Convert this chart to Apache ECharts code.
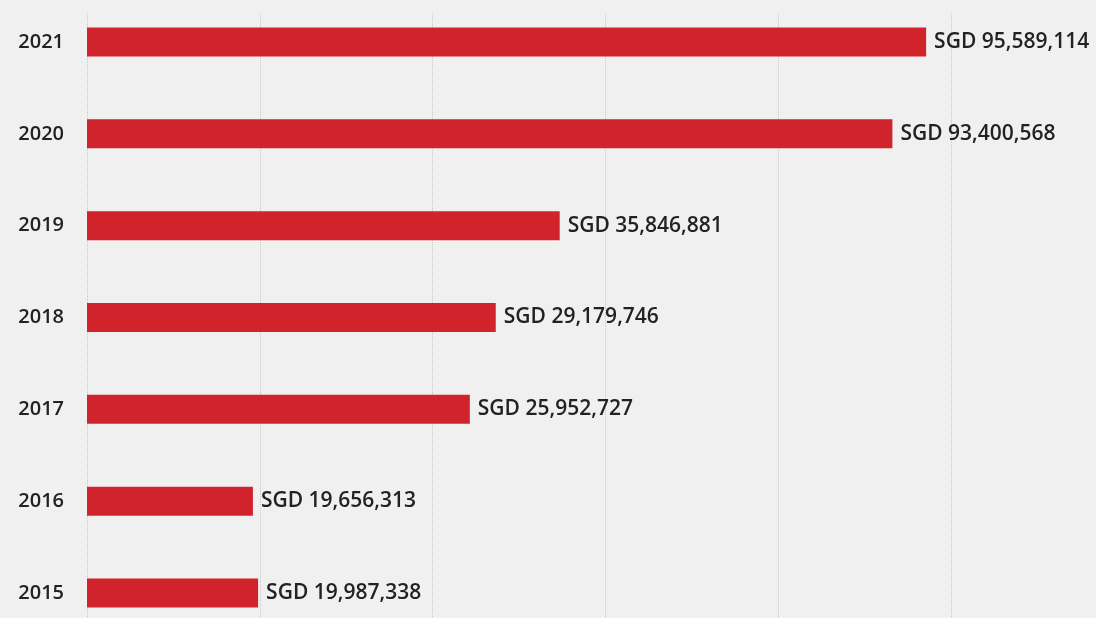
<!DOCTYPE html>
<html>
<head>
<meta charset="utf-8">
<style>
	html, body { margin: 0; padding: 0; background: #f0f0f0; }
	#main { width: 1096px; height: 618px; }
</style>
<script src="https://cdn.jsdelivr.net/npm/echarts@6/dist/echarts.min.js"></script>
</head>
<body>
<div id="main"></div>
<script>
// 年份（从下到上）
var years = ['2015', '2016', '2017', '2018', '2019', '2020', '2021'];
// 柱长，按图上量出（单位：SGD），原图柱长与标注金额不完全对应
var barValues = [19800000, 19200000, 44300000, 47300000, 54700000, 93200000, 97100000];
// 柱右侧的金额标注
var amountLabels = ['SGD 19,987,338', 'SGD 19,656,313', 'SGD 25,952,727', 'SGD 29,179,746',
	'SGD 35,846,881', 'SGD 93,400,568', 'SGD 95,589,114'];

(function() {
	var myChart = echarts.init(document.getElementById('main'));
	var font = '"Open Sans", "Noto Sans", sans-serif';

	var option = {
		backgroundColor: '#f0f0f0',
		animation: false,
		grid: [
			// 柱子所在的网格（类目落在上下边上）
			{ left: 87, width: 1037, top: 42, bottom: 25, outerBoundsMode: 'none' },
			// 只画虚线的网格
			{ left: 87, width: 1037, top: 14, bottom: 0, outerBoundsMode: 'none' }
		],
		xAxis: [{
			type: 'value',
			gridIndex: 0,
			min: 0,
			max: 120000000,
			interval: 20000000,
			show: false,
			splitLine: { show: false }
		}, {
			type: 'value',
			gridIndex: 1,
			min: 0,
			max: 120000000,
			interval: 20000000,
			axisLine: { show: false },
			axisTick: { show: false },
			axisLabel: { show: false },
			splitLine: {
				show: true,
				lineStyle: { color: '#c6c6c6', type: 'dotted', width: 1 }
			}
		}],
		yAxis: [{
			type: 'category',
			gridIndex: 0,
			data: years,
			boundaryGap: false,
			axisLine: { show: false },
			axisTick: { show: false },
			splitLine: { show: false },
			axisLabel: {
				margin: 23,
				color: '#222',
				fontSize: 20,
				fontWeight: 600,
				fontFamily: font
			}
		}, {
			type: 'value',
			gridIndex: 1,
			show: false,
			min: 0,
			max: 1
		}],
		series: [{
			type: 'bar',
			xAxisIndex: 0,
			yAxisIndex: 0,
			data: barValues,
			barWidth: 29,
			itemStyle: { color: '#d1232b' },
			label: {
				show: true,
				position: 'right',
				distance: 8,
				color: '#222',
				fontSize: 21,
				fontWeight: 600,
				fontFamily: font,
				formatter: function(p) {
					return amountLabels[p.dataIndex];
				}
			}
		}]
	};
	myChart.setOption(option);
})();
</script>
</body>
</html>
